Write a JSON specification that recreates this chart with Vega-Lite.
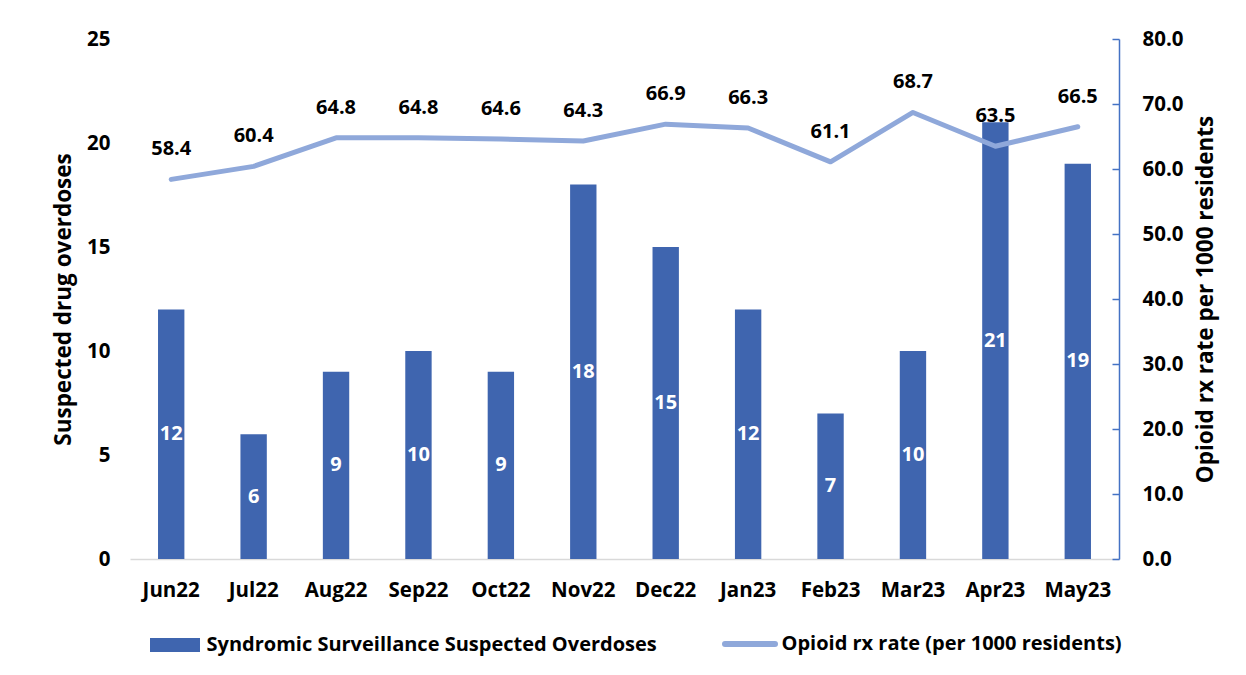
{
  "$schema": "https://vega.github.io/schema/vega-lite/v6.json",
  "width": 989,
  "height": 520,
  "padding": {"left": 52, "top": 29, "right": 10, "bottom": 10},
  "background": "white",
  "config": {
    "view": {"stroke": null},
    "font": "Open Sans",
    "axis": {"labelFont": "Open Sans", "titleFont": "Open Sans", "labelFontWeight": "bold", "titleFontWeight": "bold", "labelColor": "#000000", "titleColor": "#000000", "labelFontSize": 20.5, "titleFontSize": 22.5, "grid": false}
  },
  "data": {
    "values": [
      {"month": "Jun22", "od": 12, "rx": 58.4},
      {"month": "Jul22", "od": 6, "rx": 60.4},
      {"month": "Aug22", "od": 9, "rx": 64.8},
      {"month": "Sep22", "od": 10, "rx": 64.8},
      {"month": "Oct22", "od": 9, "rx": 64.6},
      {"month": "Nov22", "od": 18, "rx": 64.3},
      {"month": "Dec22", "od": 15, "rx": 66.9},
      {"month": "Jan23", "od": 12, "rx": 66.3},
      {"month": "Feb23", "od": 7, "rx": 61.1},
      {"month": "Mar23", "od": 10, "rx": 68.7},
      {"month": "Apr23", "od": 21, "rx": 63.5},
      {"month": "May23", "od": 19, "rx": 66.5}
    ]
  },
  "encoding": {
    "x": {
      "field": "month", "type": "nominal", "sort": null,
      "scale": {"paddingInner": 0.68, "paddingOuter": 0.34},
      "axis": {"title": null, "labelAngle": 0, "ticks": false, "domainColor": "#D9D9D9", "domainWidth": 1.5, "labelPadding": 21}
    }
  },
  "layer": [
    {
      "encoding": {
        "y": {
          "field": "od", "type": "quantitative",
          "scale": {"domain": [0, 25]},
          "axis": {"title": "Suspected drug overdoses", "values": [0, 5, 10, 15, 20, 25], "domain": false, "ticks": false, "labelPadding": 20, "titlePadding": 11}
        }
      },
      "layer": [
        {
          "mark": {"type": "bar"},
          "encoding": {
            "color": {
              "datum": "Syndromic Surveillance Suspected Overdoses",
              "scale": {"domain": ["Syndromic Surveillance Suspected Overdoses", "Opioid rx rate (per 1000 residents)"], "range": ["#3F65AF", "#8FA8DA"]},
              "legend": {
                "orient": "none", "legendX": 35, "legendY": 595, "direction": "horizontal", "title": null,
                "labelFont": "Open Sans", "labelFontWeight": "bold", "labelFontSize": 20, "labelColor": "#000000",
                "symbolSize": 2500, "labelOffset": 21.5, "columnPadding": 56, "labelLimit": 600,
                "encode": {
                  "symbols": {
                    "update": {
                      "shape": {"signal": "datum.value == 'Opioid rx rate (per 1000 residents)' ? 'M-1,0H1' : 'M-1,-0.28H1V0.28H-1Z'"},
                      "fill": {"signal": "datum.value == 'Opioid rx rate (per 1000 residents)' ? 'transparent' : '#3F65AF'"},
                      "stroke": {"signal": "datum.value == 'Opioid rx rate (per 1000 residents)' ? '#8FA8DA' : 'transparent'"},
                      "strokeWidth": {"signal": "datum.value == 'Opioid rx rate (per 1000 residents)' ? 6 : 0"},
                      "strokeCap": {"value": "round"},
                      "opacity": {"value": 1},
                      "fillOpacity": {"value": 1},
                      "strokeOpacity": {"value": 1}
                    }
                  }
                }
              }
            }
          }
        },
        {
          "mark": {"type": "text", "color": "white", "fontWeight": "bold", "fontSize": 20, "font": "Open Sans", "baseline": "middle"},
          "encoding": {
            "y": {"field": "od", "type": "quantitative", "stack": "zero", "bandPosition": 0.5},
            "text": {"field": "od", "type": "quantitative"}
          }
        }
      ]
    },
    {
      "layer": [
        {
          "mark": {"type": "line", "strokeWidth": 5, "strokeCap": "round", "strokeJoin": "round"},
          "encoding": {
            "y": {
              "field": "rx", "type": "quantitative",
              "scale": {"domain": [0, 80]},
              "axis": {"orient": "right", "title": "Opioid rx rate per 1000 residents", "titleAngle": 270, "titleBaseline": "top", "values": [0, 10, 20, 30, 40, 50, 60, 70, 80], "format": ".1f", "domainColor": "#4472C4", "domainWidth": 1.5, "ticks": false, "labelPadding": 23, "titlePadding": 11}
            },
            "color": {"datum": "Opioid rx rate (per 1000 residents)"}
          }
        },
        {
          "mark": {"type": "text", "color": "black", "fontWeight": "bold", "fontSize": 20, "font": "Open Sans", "baseline": "middle", "dy": -30},
          "encoding": {
            "y": {
              "field": "rx", "type": "quantitative",
              "axis": {"orient": "right", "title": null, "labels": false, "domain": false, "ticks": true, "tickColor": "#4472C4", "tickWidth": 1.5, "tickSize": -7, "values": [0, 10, 20, 30, 40, 50, 60, 70, 80]}
            },
            "text": {"field": "rx", "type": "quantitative", "format": ".1f"}
          }
        }
      ],
      "resolve": {"axis": {"y": "independent"}}
    }
  ],
  "resolve": {"scale": {"y": "independent"}}
}
